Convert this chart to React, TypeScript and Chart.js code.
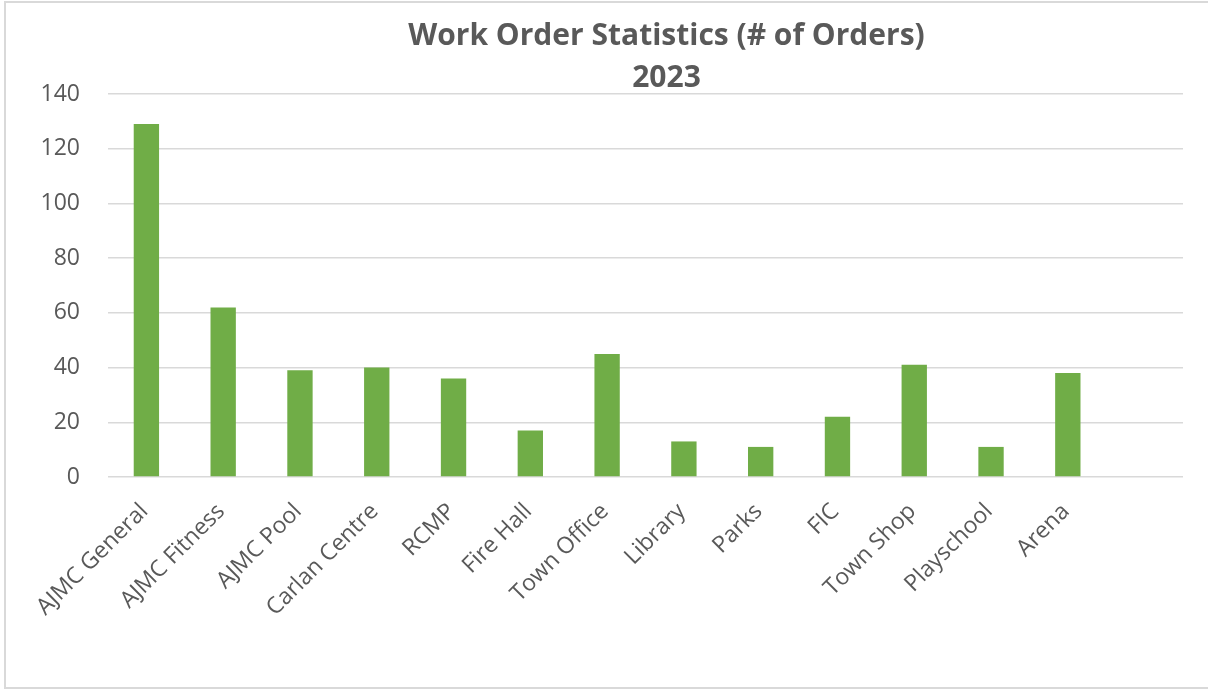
import React, { useEffect, useRef } from "react";
import { Chart, registerables } from "chart.js";

Chart.register(...registerables);

const categories = [
  "AJMC General",
  "AJMC Fitness",
  "AJMC Pool",
  "Carlan Centre",
  "RCMP",
  "Fire Hall",
  "Town Office",
  "Library",
  "Parks",
  "FIC",
  "Town Shop",
  "Playschool",
  "Arena",
  "",
];
const orders = [129, 62, 39, 40, 36, 17, 45, 13, 11, 22, 41, 11, 38, null];
const titleLines = ["Work Order Statistics (# of Orders)", "2023"];
const yMin = 0;
const yMax = 140;
const yStep = 20;

const TEXT = "#595959";
const GRID = "#d9d9d9";
const BAR = "#70AD47";

const titlePlugin = {
  id: "excelTitle",
  afterDraw(chart: any) {
    const ctx = chart.ctx;
    ctx.save();
    ctx.fillStyle = TEXT;
    ctx.font = "bold 30px 'Open Sans'";
    ctx.textAlign = "center";
    ctx.textBaseline = "middle";
    const cx = (chart.chartArea.left + chart.chartArea.right) / 2 + 21;
    titleLines.forEach((line, i) => {
      ctx.fillText(line, cx, 36 + i * 42);
    });
    ctx.restore();
  },
};

export default function App() {
  const ref = useRef<HTMLCanvasElement | null>(null);

  useEffect(() => {
    if (!ref.current) return;
    const chart = new Chart(ref.current, {
      type: "bar",
      data: {
        labels: categories,
        datasets: [
          {
            label: "Orders",
            data: orders,
            backgroundColor: BAR,
            borderWidth: 0,
            barPercentage: 0.33,
            categoryPercentage: 1,
          },
        ],
      },
      plugins: [titlePlugin],
      options: {
        responsive: false,
        animation: false,
        layout: { padding: { left: 0, right: 25, top: 94, bottom: 0 } },
        plugins: {
          legend: { display: false },
          tooltip: { enabled: false },
          title: { display: false },
        },
        scales: {
          x: {
            grid: { display: false },
            border: { display: false },
            ticks: {
              color: TEXT,
              font: { family: "'Open Sans'", size: 23 },
              minRotation: 45,
              maxRotation: 45,
              autoSkip: false,
              labelOffset: -2,
              padding: 13,
            },
            afterFit: (scale: any) => {
              scale.height = 212;
            },
          },
          y: {
            min: yMin,
            max: yMax,
            grid: { color: GRID, lineWidth: 1.5, drawTicks: false },
            border: { display: false },
            ticks: {
              stepSize: yStep,
              color: TEXT,
              font: { family: "'Open Sans'", size: 23 },
              padding: 28,
            },
            afterFit: (scale: any) => {
              scale.width = 108;
            },
          },
        },
      },
    });
    return () => chart.destroy();
  }, []);

  return (
    <div style={{ position: "fixed", left: 0, top: 0, width: 1208, height: 689, background: "#fff", overflow: "hidden" }}>
      <div
        style={{
          position: "absolute",
          left: 4,
          top: 1,
          width: 1220,
          height: 688,
          border: "2px solid #d9d9d9",
          boxSizing: "border-box",
        }}
      />
      <canvas ref={ref} width={1208} height={689} style={{ position: "absolute", left: 0, top: 0, display: "block" }} />
    </div>
  );
}
